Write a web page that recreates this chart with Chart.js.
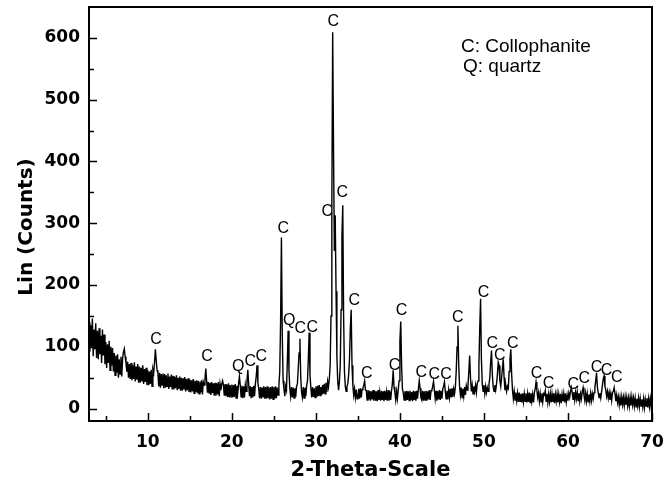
<!DOCTYPE html>
<html><head><meta charset="utf-8">
<script src="https://cdn.jsdelivr.net/npm/chart.js@4"></script>
<style>html,body{margin:0;padding:0;background:#fff}#wrap{width:663px;height:486px;position:relative}</style>
</head><body><div id="wrap"><canvas id="c" width="663" height="486"></canvas></div>
<script>
// XRD scan: start angle and step (degrees 2-theta), counts
const scanStart = 3.0;
const scanStep = 0.1;
const counts = [
/*3*/ 140,92,135,100,146,85,128,96,138,82,
/*4*/ 126,80,130,88,118,74,128,86,120,72,
/*5*/ 108,66,104,74,110,62,100,70,98,60,
/*6*/ 90,54,86,58,88,50,80,56,84,52,
/*7*/ 82,92,97,84,74,60,76,50,72,48,
/*8*/ 74,46,70,48,75,44,68,47,72,42,
/*9*/ 68,42,66,44,70,40,64,43,66,38,
/*10*/ 62,38,60,40,63,36,64,58,75,96,
/*11*/ 78,62,58,36,58,34,56,38,57,33,
/*12*/ 56,34,54,36,57,32,52,35,55,31,
/*13*/ 53,31,51,33,54,30,50,32,52,29,
/*14*/ 50,29,49,31,51,28,48,30,49,27,
/*15*/ 47,26,46,28,48,25,45,27,46,25,
/*16*/ 45,24,44,26,46,23,43,38,48,65,
/*17*/ 45,26,43,24,42,22,43,25,41,21,
/*18*/ 42,21,41,23,43,20,40,30,40,45,
/*19*/ 38,21,40,20,39,19,41,18,38,19,
/*20*/ 39,18,38,19,40,17,37,25,40,52,
/*21*/ 38,19,37,17,36,18,38,28,45,63,
/*22*/ 40,20,36,17,35,18,37,20,40,52,
/*23*/ 70,42,32,17,35,16,34,18,36,16,
/*24*/ 35,16,36,17,34,15,35,16,36,15,
/*25*/ 35,16,36,17,34,22,38,60,140,277,
/*26*/ 120,45,32,20,36,30,75,126,60,32,
/*27*/ 20,35,18,34,17,33,19,36,40,65,
/*28*/ 90,113,50,26,18,35,17,34,20,37,
/*29*/ 45,80,123,55,34,18,35,19,33,18,
/*30*/ 36,19,37,20,38,21,35,22,38,24,
/*31*/ 40,24,42,27,44,35,48,70,150,330,
/*32*/ 609,420,255,313,190,85,45,30,44,70,
/*33*/ 160,280,329,150,60,36,28,36,40,55,
/*34*/ 80,130,160,70,38,22,32,18,31,16,
/*35*/ 17,32,16,33,18,31,33,38,45,30,
/*36*/ 29,14,30,15,29,13,28,15,30,13,
/*37*/ 29,13,28,12,30,14,27,13,29,14,
/*38*/ 28,12,29,14,27,13,30,13,28,14,
/*39*/ 29,40,62,35,26,14,28,16,30,45,
/*40*/ 110,141,70,32,26,14,28,13,29,14,
/*41*/ 28,13,29,14,27,12,29,14,28,13,
/*42*/ 29,16,32,45,33,18,14,29,13,28,
/*43*/ 14,29,13,28,15,30,14,29,30,36,
/*44*/ 44,30,16,29,13,28,15,30,14,29,
/*45*/ 16,32,36,43,28,16,29,15,30,18,
/*46*/ 32,18,33,19,32,24,35,60,100,134,
/*47*/ 70,36,22,34,18,32,20,35,22,37,
/*48*/ 30,38,60,86,50,28,38,24,36,28,
/*49*/ 38,26,40,45,70,130,178,80,40,28,
/*50*/ 38,24,36,26,34,28,40,50,75,94,
/*51*/ 55,35,28,38,30,40,55,75,70,45,
/*52*/ 36,50,65,80,50,30,38,28,36,33,
/*53*/ 60,80,96,55,30,16,28,14,26,13,
/*54*/ 25,11,26,12,24,10,25,11,24,12,
/*55*/ 25,10,24,11,26,10,25,12,23,10,
/*56*/ 26,32,43,30,18,26,12,24,11,25,
/*57*/ 11,24,22,29,12,24,10,23,11,24,
/*58*/ 10,24,11,25,9,23,12,24,10,23,
/*59*/ 11,24,9,23,12,24,10,25,11,22,
/*60*/ 13,25,18,28,34,26,15,27,14,26,
/*61*/ 16,27,13,25,12,24,16,28,34,22,
/*62*/ 13,25,12,24,11,23,12,25,13,24,
/*63*/ 16,26,34,45,58,35,26,18,25,17,
/*64*/ 27,38,48,53,36,30,20,28,17,26,
/*65*/ 14,24,13,26,28,34,24,12,22,10,
/*66*/ 19,6,18,5,19,7,18,5,19,6,
/*67*/ 18,5,17,4,18,5,19,6,17,4,
/*68*/ 17,3,16,5,17,3,16,4,15,3,
/*69*/ 16,2,15,4,17,2,16,3,16,3,
/*70*/ 10
];

const xTicks = [10, 20, 30, 40, 50, 60, 70];
const yTicks = [0, 100, 200, 300, 400, 500, 600];

// phase tags: angle, tag, level (counts) where the tag sits
const peakPos   = [10.99, 17.06, 20.76, 22.19, 23.5, 26.12, 26.84, 28.15, 29.58, 32.08, 31.37, 33.15, 34.58, 36.05, 39.35, 40.2, 42.55, 44.1, 45.5, 46.9, 49.96, 51.0, 51.87, 53.42, 56.27, 57.7, 60.62, 61.93, 63.4, 64.6, 65.8];
const peakTag   = ['C','C','Q','C','C','C','Q','C','C','C','C','C','C','C','C','C','C','C','C','C','C','C','C','C','C','C','C','C','C','C','C'];
const tagLevel  = [112, 84, 68, 76, 84, 292, 143, 130, 131, 626, 319, 350, 175, 57, 70, 159, 59, 55, 55, 147, 187, 106, 86, 106, 57, 41, 39, 48, 66, 62, 50];

const legendLines = ['C: Collophanite', 'Q: quartz'];
const xTitle = '2-Theta-Scale';
const yTitle = 'Lin (Counts)';

const points = counts.map((c, i) => ({ x: +(scanStart + i * scanStep).toFixed(2), y: c }));

const deco = {
  id: 'deco',
  afterDraw(chart) {
    const ctx = chart.ctx, a = chart.chartArea;
    const xs = chart.scales.x, ys = chart.scales.y;
    ctx.save();
    ctx.strokeStyle = '#000';
    ctx.lineWidth = 2;
    ctx.strokeRect(a.left, a.top, a.right - a.left, a.bottom - a.top);
    ctx.lineWidth = 1.5;
    ctx.beginPath();
    xTicks.forEach(v => {
      const p = Math.round(xs.getPixelForValue(v)) + 0.5;
      ctx.moveTo(p, a.bottom); ctx.lineTo(p, a.bottom - 8);
      const m = Math.round(xs.getPixelForValue(v - 5)) + 0.5;
      ctx.moveTo(m, a.bottom); ctx.lineTo(m, a.bottom - 5);
    });
    yTicks.forEach(v => {
      const p = Math.round(ys.getPixelForValue(v)) + 0.5;
      ctx.moveTo(a.left, p); ctx.lineTo(a.left + 8, p);
      const m = Math.round(ys.getPixelForValue(v + 50)) + 0.5;
      if (m > a.top + 2) { ctx.moveTo(a.left, m); ctx.lineTo(a.left + 5, m); }
    });
    ctx.stroke();

    ctx.fillStyle = '#000';
    ctx.textAlign = 'center';
    ctx.textBaseline = 'middle';
    ctx.font = '16px "Liberation Sans", Arial, sans-serif';
    peakPos.forEach((p, i) => {
      ctx.fillText(peakTag[i], xs.getPixelForValue(p), ys.getPixelForValue(tagLevel[i]));
    });

    ctx.textAlign = 'left';
    ctx.font = '19px "Liberation Sans", Arial, sans-serif';
    ctx.fillText(legendLines[0], a.left + 372, a.top + 40);
    ctx.fillText(legendLines[1], a.left + 374, a.top + 60);

    ctx.translate(27, 227);
    ctx.rotate(-Math.PI / 2);
    ctx.textAlign = 'center';
    ctx.font = 'bold 20px "DejaVu Sans", sans-serif';
    ctx.fillText(yTitle, 0, 0);
    ctx.restore();
  }
};

new Chart(document.getElementById('c'), {
  type: 'line',
  data: { datasets: [{ data: points, borderColor: '#000', borderWidth: 1.4, pointRadius: 0, tension: 0, fill: false }] },
  options: {
    responsive: false,
    animation: false,
    parsing: false,
    normalized: true,
    layout: { padding: { top: 7, right: 11, left: 0, bottom: 0 } },
    plugins: { legend: { display: false }, tooltip: { enabled: false } },
    scales: {
      x: {
        type: 'linear', min: 3, max: 70,
        grid: { display: false, drawTicks: false },
        border: { display: false },
        afterBuildTicks: s => { s.ticks = xTicks.map(v => ({ value: v })); },
        afterFit: s => { s.height = 65; s.paddingLeft = 0; s.paddingRight = 0; },
        ticks: { color: '#000', padding: 11, maxRotation: 0, autoSkip: false,
                 font: { family: '"DejaVu Sans", sans-serif', size: 17, weight: 'bold' } },
        title: { display: true, text: xTitle, color: '#000', padding: { top: 0, bottom: 3 },
                 font: { family: '"DejaVu Sans", sans-serif', size: 21, weight: 'bold' } }
      },
      y: {
        type: 'linear', min: -20, max: 650,
        grid: { display: false, drawTicks: false },
        border: { display: false },
        afterBuildTicks: s => { s.ticks = yTicks.map(v => ({ value: v })); },
        afterFit: s => { s.width = 89; s.paddingTop = 0; s.paddingBottom = 0; },
        ticks: { color: '#000', padding: 9, autoSkip: false,
                 font: { family: '"DejaVu Sans", sans-serif', size: 17, weight: 'bold' } }
      }
    }
  },
  plugins: [deco]
});
</script>
</body></html>
